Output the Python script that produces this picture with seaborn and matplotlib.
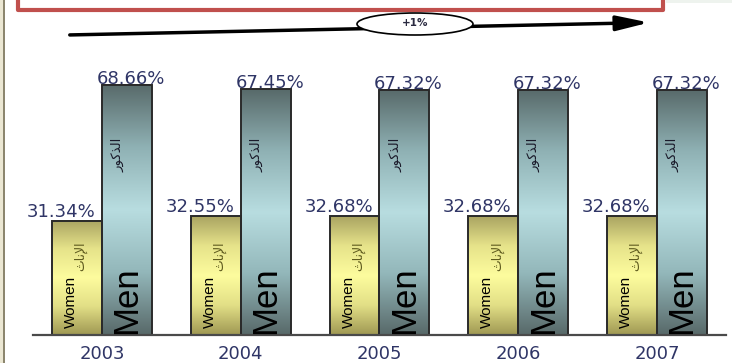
import numpy as np
import pandas as pd
import matplotlib
matplotlib.use("Agg")
import matplotlib.pyplot as plt
import seaborn as sns
from matplotlib.patches import Rectangle, Ellipse, FancyArrowPatch
from matplotlib.colors import LinearSegmentedColormap

# ---- data ----
years = ["2003", "2004", "2005", "2006", "2007"]
women = [31.34, 32.55, 32.68, 32.68, 32.68]
men = [68.66, 67.45, 67.32, 67.32, 67.32]
genders = ["Women", "Men"]
growth_label = "+1%"
# Arabic captions, pre-shaped (presentation forms, visual order)
women_ar = "\uFE99\uFE8E\uFEE7\uFEF9\uFE8D"   # الإناث
men_ar = "\uFEAD\uFEEE\uFEDB\uFEAC\uFEDF\uFE8D"  # الذكور

df = pd.DataFrame({
    "year": years * 2,
    "gender": ["Women"] * len(years) + ["Men"] * len(years),
    "value": women + men,
})

W, H = 732, 363
sns.set_theme(style="white")
plt.rcParams["font.family"] = ["DejaVu Sans"]

fig = plt.figure(figsize=(W / 100, H / 100), dpi=100)
fig.patch.set_facecolor("white")

# axes: baseline at y=335px, category spacing ~139px
ax = fig.add_axes([32.6 / W, (H - 335) / H, 693.75 / W, 335 / H])
ax.set_facecolor("none")

sns.barplot(data=df, x="year", y="value", hue="gender", order=years,
            hue_order=genders, width=0.72, palette=["#f0ee90", "#a0c8cc"],
            edgecolor="#2a2a2a", linewidth=1.4, legend=False, ax=ax)

YMAX = 92.0
ax.set_xlim(-0.5, 4.5)
ax.set_ylim(0, YMAX)

# vertical gradient fills (dark at the ends, light in the middle)
cmaps = {
    "Women": LinearSegmentedColormap.from_list(
        "w", ["#9f9853", "#e2df86", "#fdfc9e", "#e6e38a", "#aaa462"]),
    "Men": LinearSegmentedColormap.from_list(
        "m", ["#586969", "#93b7ba", "#b8dde0", "#8fb1b4", "#586a6a"]),
}
grad = np.linspace(1, 0, 256).reshape(-1, 1)
bars = sorted(ax.patches, key=lambda p: p.get_x())
for k, p in enumerate(bars):
    x0, w, h = p.get_x(), p.get_width(), p.get_height()
    key = genders[k % 2]
    ax.imshow(grad, extent=[x0, x0 + w, 0, h], aspect="auto",
              cmap=cmaps[key], zorder=0.9, interpolation="bicubic")
    p.set_facecolor("none")
    p.set_zorder(1.5)

ax.set_xlim(-0.5, 4.5)
ax.set_ylim(0, YMAX)
ax.set_aspect("auto")

px_x = 693.75 / 5.0  # pixels per category
bw = 0.36
label_color = "#2f3566"
for i, (wv, mv) in enumerate(zip(women, men)):
    wc = i - bw / 2
    mc = i + bw / 2
    # value labels
    ax.text(wc - 16 / px_x, wv + 1.1, f"{wv:.2f}%", ha="center",
            va="baseline", fontsize=13, color=label_color, zorder=3)
    ax.text(mc + 4 / px_x, mv + 0.35, f"{mv:.2f}%", ha="center",
            va="baseline", fontsize=13, color=label_color, zorder=3)
    # captions inside the bars
    ax.text(wc - 6 / px_x, 1.8, "Women", rotation=90, ha="center",
            va="bottom", fontsize=11, family="Liberation Sans",
            color="black", zorder=3)
    ax.text(wc + 4 / px_x, 21.5, women_ar, rotation=90, ha="center",
            va="center", fontsize=9, color="#5e5a1e", zorder=3)
    ax.text(mc, 0.4, "Men", rotation=90, ha="center", va="bottom",
            fontsize=25, family="Liberation Sans", color="black", zorder=3)
    ax.text(mc - 9 / px_x, 49.5, men_ar, rotation=90, ha="center",
            va="center", fontsize=9.5, color="#1a1a2a", zorder=3)

# axis styling
for s in ["left", "right", "top"]:
    ax.spines[s].set_visible(False)
ax.spines["bottom"].set_color("#4a4a4a")
ax.spines["bottom"].set_linewidth(1.6)
ax.set_yticks([])
ax.set_xlabel("")
ax.set_ylabel("")
ax.tick_params(axis="x", length=0, pad=7, labelsize=13,
               labelcolor=label_color)

# ---- decorations in figure coordinates ----
def fx(px):
    return px / W

def fy(py):
    return 1 - py / H

# left window edge
fig.add_artist(Rectangle((0, 0), fx(3), 1, transform=fig.transFigure,
                         facecolor="#ebe7d3", edgecolor="none", zorder=5))
fig.add_artist(Rectangle((fx(3), 0), fx(1.5), 1, transform=fig.transFigure,
                         facecolor="#8c866e", edgecolor="none", zorder=5))
# faint tint top right
fig.add_artist(Rectangle((fx(666), fy(3)), fx(66), 3 / H,
                         transform=fig.transFigure, facecolor="#eef3ee",
                         edgecolor="none", zorder=5))
# red header frame (cut off at the top)
fig.add_artist(Rectangle((fx(18), fy(9.5)), fx(645), 20 / H,
                         transform=fig.transFigure, facecolor="white",
                         edgecolor="#c0504d", linewidth=3.0,
                         joinstyle="round", zorder=6))

# trend arrow with growth bubble
arrow = FancyArrowPatch((fx(67), fy(35)), (fx(652), fy(22.5)),
                        transform=fig.transFigure,
                        arrowstyle="-|>,head_length=1.4,head_width=0.32",
                        mutation_scale=14, linewidth=2.5, color="black",
                        zorder=6)
fig.add_artist(arrow)
fig.add_artist(Ellipse((fx(415), fy(24)), fx(116), 22 / H,
                       transform=fig.transFigure, facecolor="white",
                       edgecolor="black", linewidth=1.2, zorder=7))
fig.text(fx(415), fy(23.5), growth_label, ha="center", va="center",
         fontsize=7.5, fontweight="bold", color="#2a2a40", zorder=8)

fig.savefig("out.png", dpi=100, facecolor="white")
